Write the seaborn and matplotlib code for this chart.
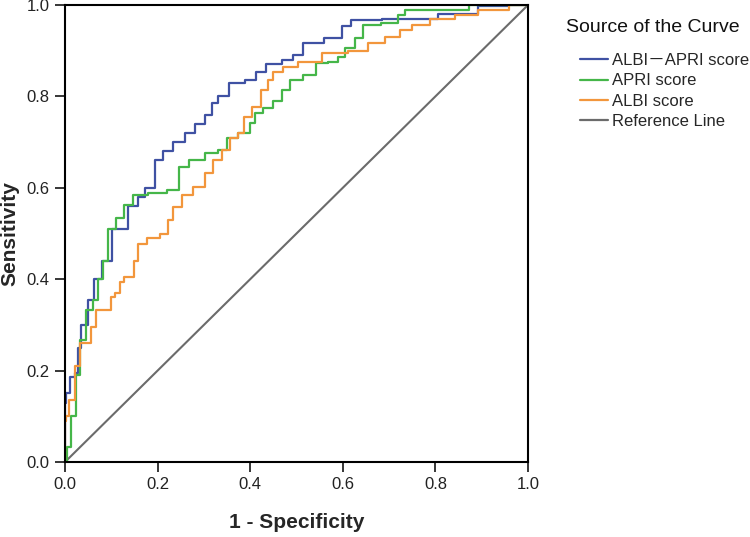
import numpy as np
import pandas as pd
import seaborn as sns
import matplotlib.pyplot as plt
from matplotlib.lines import Line2D

# =======================
# Datos
# =======================
curve_names = ['ALBI－APRI score', 'APRI score', 'ALBI score']
ref_label = 'Reference Line'

fpr_combo = [0, 0, 0.004, 0.018, 0.025, 0.03, 0.04, 0.058, 0.068, 0.09,
             0.115, 0.155, 0.162, 0.184, 0.205, 0.22, 0.248, 0.27, 0.29, 0.313,
             0.32, 0.34, 0.37, 0.406, 0.42, 0.45, 0.486, 0.50, 0.53, 0.587,
             0.61, 0.625, 0.745, 0.868, 0.918, 1.0]
tpr_combo = [0, 0.13, 0.15, 0.187, 0.195, 0.25, 0.30, 0.355, 0.40, 0.44,
             0.51, 0.56, 0.58, 0.60, 0.66, 0.68, 0.70, 0.72, 0.74, 0.76,
             0.785, 0.80, 0.83, 0.835, 0.854, 0.87, 0.88, 0.89, 0.916, 0.927,
             0.953, 0.967, 0.97, 0.98, 0.997, 1.0]

fpr_apri = [0, 0.007, 0.018, 0.029, 0.036, 0.054, 0.065, 0.076, 0.086, 0.10,
            0.122, 0.133, 0.162, 0.198, 0.241, 0.252, 0.284, 0.32, 0.342, 0.356,
            0.392, 0.406, 0.414, 0.443, 0.457, 0.479, 0.493, 0.536, 0.55, 0.587,
            0.594, 0.616, 0.637, 0.65, 0.716, 0.724, 0.745, 1.0]
tpr_apri = [0, 0.033, 0.10, 0.19, 0.267, 0.333, 0.355, 0.40, 0.44, 0.51,
            0.534, 0.562, 0.584, 0.588, 0.595, 0.646, 0.661, 0.676, 0.683, 0.709,
            0.719, 0.742, 0.763, 0.775, 0.79, 0.814, 0.836, 0.847, 0.873, 0.876,
            0.887, 0.905, 0.927, 0.956, 0.96, 0.978, 0.989, 1.0]

fpr_albi = [0, 0, 0.004, 0.014, 0.029, 0.036, 0.05, 0.061, 0.072, 0.097,
            0.101, 0.115, 0.122, 0.133, 0.148, 0.151, 0.166, 0.19, 0.22, 0.227,
            0.241, 0.263, 0.292, 0.313, 0.328, 0.349, 0.364, 0.382, 0.392, 0.414,
            0.432, 0.443, 0.457, 0.486, 0.522, 0.587, 0.637, 0.673, 0.709, 0.738,
            0.76, 0.817, 0.868, 0.918, 1.0]
tpr_albi = [0, 0.09, 0.10, 0.136, 0.21, 0.26, 0.26, 0.296, 0.333, 0.333,
            0.362, 0.37, 0.394, 0.405, 0.405, 0.44, 0.478, 0.49, 0.50, 0.53,
            0.559, 0.584, 0.602, 0.632, 0.661, 0.683, 0.708, 0.719, 0.755, 0.777,
            0.814, 0.836, 0.854, 0.865, 0.876, 0.894, 0.90, 0.916, 0.93, 0.945,
            0.956, 0.97, 0.978, 0.989, 1.0]

ref_x = [0, 1]
ref_y = [0, 1]

ticks = [0.0, 0.2, 0.4, 0.6, 0.8, 1.0]
tick_labels = ['0.0', '0.2', '0.4', '0.6', '0.8', '1.0']

colores = {'ALBI－APRI score': '#3f51a3',
           'APRI score': '#45b649',
           'ALBI score': '#f2963c'}
color_ref = '#6b6b6b'

roc_df = pd.concat([
    pd.DataFrame({'fpr': fpr_combo, 'tpr': tpr_combo, 'curve': curve_names[0]}),
    pd.DataFrame({'fpr': fpr_apri, 'tpr': tpr_apri, 'curve': curve_names[1]}),
    pd.DataFrame({'fpr': fpr_albi, 'tpr': tpr_albi, 'curve': curve_names[2]}),
], ignore_index=True)

# =======================
# Estilo
# =======================
sns.set_style('ticks')
plt.rcParams['font.family'] = ['Liberation Sans', 'Noto Sans CJK SC', 'DejaVu Sans']

fig = plt.figure(figsize=(7.5, 5.37), dpi=100)
ax = fig.add_axes([65 / 750, 75 / 537, 463 / 750, 457 / 537])

# Linea de referencia
sns.lineplot(x=ref_x, y=ref_y, color=color_ref, linewidth=1.5, ax=ax)

# Curvas ROC (escalonadas)
sns.lineplot(data=roc_df, x='fpr', y='tpr', hue='curve', hue_order=curve_names,
             palette=colores, estimator=None, sort=False, drawstyle='steps-mid',
             linewidth=1.6, legend=False, ax=ax)

ax.set_xlim(0, 1)
ax.set_ylim(0, 1)
ax.set_xticks(ticks)
ax.set_xticklabels(tick_labels)
ax.set_yticks(ticks)
ax.set_yticklabels(tick_labels)
ax.tick_params(direction='out', length=7, width=1.3, labelsize=12,
               labelcolor='#222222', pad=4)
for s in ax.spines.values():
    s.set_visible(True)
    s.set_linewidth(1.5)
    s.set_color('black')

ax.set_xlabel('1 - Specificity', fontsize=15, fontweight='bold', labelpad=15)
ax.set_ylabel('Sensitivity', fontsize=15, fontweight='bold', labelpad=5)

# Leyenda
fig.text(566 / 750, 1 - 27 / 537, 'Source of the Curve', fontsize=14,
         va='center', ha='left', color='#111111')
handles = [Line2D([0], [0], color=colores[c], lw=1.6) for c in curve_names]
handles.append(Line2D([0], [0], color=color_ref, lw=1.6))
fig.legend(handles, curve_names + [ref_label], loc='upper left',
           bbox_to_anchor=(580 / 750, 1 - 53 / 537), frameon=False,
           fontsize=12, handlelength=1.7, handletextpad=0.25,
           labelspacing=0.32, borderpad=0, borderaxespad=0)

plt.savefig('out.png', dpi=100)
plt.close()
